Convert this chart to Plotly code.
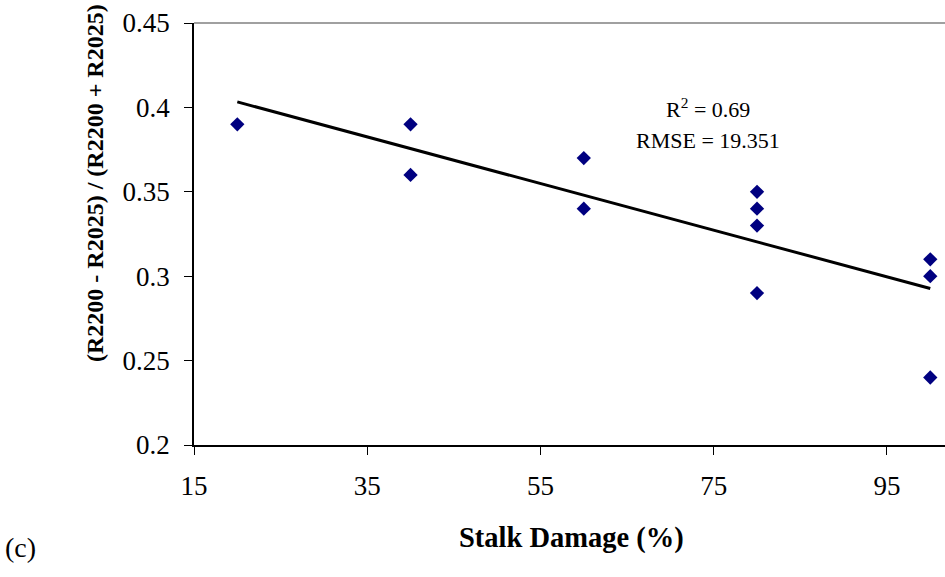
import numpy as np
import plotly.graph_objects as go

# Stalk damage (%) and the normalized difference index (R2200 - R2025) / (R2200 + R2025)
stalk_damage = [20, 40, 40, 60, 60, 80, 80, 80, 80, 100, 100, 100]
nd_index = [0.39, 0.39, 0.36, 0.37, 0.34, 0.35, 0.34, 0.33, 0.29, 0.31, 0.30, 0.24]

x_ticks = [15, 35, 55, 75, 95]
y_ticks = [0.2, 0.25, 0.3, 0.35, 0.4, 0.45]
y_tick_text = ["0.2", "0.25", "0.3", "0.35", "0.4", "0.45"]

r2_text = "R<sup>2</sup> = 0.69"
rmse_text = "RMSE = 19.351"
x_title = "<b>Stalk Damage (%)</b>"
y_title = "<b>(R2200 - R2025) / (R2200 + R2025)</b>"
panel_label = "(c)"

# Least-squares linear trend over the observed damage range
slope, intercept = np.polyfit(stalk_damage, nd_index, 1)
trend_x = [min(stalk_damage), max(stalk_damage)]
trend_y = [slope * v + intercept for v in trend_x]

serif = "Liberation Serif, Times New Roman, serif"
W, H = 945, 577
ML, MR, MT, MB = 194, 0, 23, 132


def px_to_paper(px, py):
    """Convert page pixel coordinates to paper coordinates of the plot area."""
    return ((px - ML) / (W - ML - MR), (H - MB - py) / (H - MB - MT))


def note(text, px, py, size, angle=0):
    xp, yp = px_to_paper(px, py)
    return dict(text=text, xref="paper", yref="paper", x=xp, y=yp,
                xanchor="center", yanchor="middle", showarrow=False,
                textangle=angle, font=dict(size=size, family=serif, color="black"))


fig = go.Figure()
fig.add_trace(go.Scatter(
    x=trend_x, y=trend_y, mode="lines",
    line=dict(color="black", width=3), showlegend=False, hoverinfo="skip",
))
fig.add_trace(go.Scatter(
    x=stalk_damage, y=nd_index, mode="markers",
    marker=dict(symbol="diamond", size=11, color="#000080"),
    showlegend=False,
))

fig.update_layout(
    width=W, height=H,
    margin=dict(l=ML, r=MR, t=MT, b=MB),
    paper_bgcolor="white", plot_bgcolor="white",
    font=dict(family=serif, color="black"),
    xaxis=dict(
        range=[15, 101.7], tickvals=x_ticks, ticks="outside", ticklen=8,
        tickcolor="black", showline=True, linecolor="black", linewidth=1.5,
        showgrid=False, zeroline=False, ticklabelstandoff=8,
        tickfont=dict(size=27, family=serif, color="black"),
    ),
    yaxis=dict(
        range=[0.2, 0.45], tickvals=y_ticks, ticktext=y_tick_text,
        ticks="outside", ticklen=8, tickcolor="black", showline=True,
        linecolor="black", linewidth=1.5, showgrid=False, zeroline=False,
        ticklabelstandoff=9,
        tickfont=dict(size=27, family=serif, color="black"),
    ),
    shapes=[
        dict(type="line", xref="paper", yref="paper", x0=0, x1=1, y0=1, y1=1,
             line=dict(color="#808080", width=1.5)),
    ],
    annotations=[
        note(r2_text, 708, 108, 22),
        note(rmse_text, 708, 140, 22),
        note(y_title, 95, 183, 24, angle=-90),
        note(x_title, 571, 538, 28.5),
        note(panel_label, 20, 547, 28),
    ],
)

fig.write_html("out.html")
